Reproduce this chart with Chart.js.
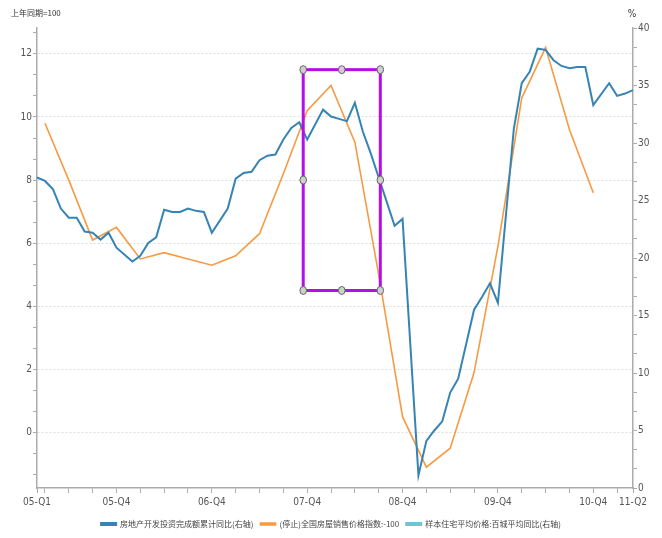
<!DOCTYPE html>
<html>
<head>
<meta charset="utf-8">
<script src="https://cdn.jsdelivr.net/npm/chart.js@4.4.1/dist/chart.umd.min.js"></script>
<style>
  html, body { margin: 0; padding: 0; background: #ffffff; }
  #wrap { width: 662px; height: 538px; }
</style>
</head>
<body>
<div id="wrap"><canvas id="c" width="662" height="538"></canvas></div>
<script>
// Monthly axis, Feb 2005 .. May 2011
const months = [
  '2005-02','2005-03','2005-04','2005-05','2005-06','2005-07','2005-08','2005-09','2005-10','2005-11','2005-12',
  '2006-01','2006-02','2006-03','2006-04','2006-05','2006-06','2006-07','2006-08','2006-09','2006-10','2006-11','2006-12',
  '2007-01','2007-02','2007-03','2007-04','2007-05','2007-06','2007-07','2007-08','2007-09','2007-10','2007-11','2007-12',
  '2008-01','2008-02','2008-03','2008-04','2008-05','2008-06','2008-07','2008-08','2008-09','2008-10','2008-11','2008-12',
  '2009-01','2009-02','2009-03','2009-04','2009-05','2009-06','2009-07','2009-08','2009-09','2009-10','2009-11','2009-12',
  '2010-01','2010-02','2010-03','2010-04','2010-05','2010-06','2010-07','2010-08','2010-09','2010-10','2010-11','2010-12',
  '2011-01','2011-02','2011-03','2011-04','2011-05'
];

// 房地产开发投资完成额累计同比 (%, right axis); January is reported together with February
const investYoY = [
  27.0, 26.7, 26.0, 24.3, 23.5, 23.5, 22.3, 22.2, 21.6, 22.2, 20.9,
  null, 19.7, 20.2, 21.3, 21.8, 24.2, 24.0, 24.0, 24.3, 24.1, 24.0, 22.2,
  null, 24.3, 26.9, 27.4, 27.5, 28.5, 28.9, 29.0, 30.3, 31.3, 31.8, 30.3,
  null, 32.9, 32.3, 32.1, 31.9, 33.5, 31.0, 29.1, 27.0, 24.9, 22.8, 23.4,
  null, 1.1, 4.1, 5.0, 5.8, 8.3, 9.5, 12.5, 15.5, 16.6, 17.8, 16.1,
  null, 31.2, 35.2, 36.2, 38.2, 38.1, 37.2, 36.7, 36.5, 36.6, 36.6, 33.3,
  null, 35.2, 34.1, 34.3, 34.6
];

// (停止)全国房屋销售价格指数 - 100, quarterly (left axis, 上年同期=100)
const priceQuarters = [
  '2005-03','2005-06','2005-09','2005-12',
  '2006-03','2006-06','2006-09','2006-12',
  '2007-03','2007-06','2007-09','2007-12',
  '2008-03','2008-06','2008-09','2008-12',
  '2009-03','2009-06','2009-09','2009-12',
  '2010-03','2010-06','2010-09','2010-12'
];
const priceIndex = [
  9.8, 8.0, 6.1, 6.5,
  5.5, 5.7, 5.5, 5.3,
  5.6, 6.3, 8.2, 10.2,
  11.0, 9.2, 5.0, 0.5,
  -1.1, -0.5, 1.9, 5.9,
  10.6, 12.2, 9.6, 7.6
];

// 样本住宅平均价格:百城平均同比 (no observations in this window)
const sampleHousePrice = [];

// Labelled x ticks
const xLabelMonths = ['2005-02','2005-12','2006-12','2007-12','2008-12','2009-12','2010-12','2011-05'];
const xLabelTexts  = ['05-Q1','05-Q4','06-Q4','07-Q4','08-Q4','09-Q4','10-Q4','11-Q2'];

// Axis label values
const leftLabels = [0, 2, 4, 6, 8, 10, 12];
const rightLabels = [0, 5, 10, 15, 20, 25, 30, 35, 40];

// Highlight box drawn over the chart, in axis units (month index / left axis)
const highlightBox = { x0: 33.5, x1: 43.2, y0: 4.5, y1: 11.5 };

const BLUE = '#3584b4';
const ORANGE = '#f79a43';
const TEAL = '#6fc6d3';
const AXIS = '#ababab';
const TICK_FONT = { family: "'Liberation Sans Narrow', 'DejaVu Sans Condensed', 'Liberation Sans', sans-serif", size: 10 };
const CJK = "'Noto Sans CJK SC', 'Noto Sans', sans-serif";

const isQuarterEnd = (i) => {
  if (i === 0 || i === months.length - 1) return true;
  const m = months[i].slice(5);
  return m === '03' || m === '06' || m === '09' || m === '12';
};
const near = (v, set) => set.some(s => Math.abs(s - v) < 1e-6);

const axisTitles = {
  id: 'axisTitles',
  afterDraw(chart) {
    const ctx = chart.ctx;
    ctx.save();
    ctx.fillStyle = '#333';
    ctx.font = `8px ${CJK}`;
    ctx.textBaseline = 'middle';
    ctx.textAlign = 'left';
    ctx.fillText('上年同期=100', 11, 13);
    ctx.textAlign = 'center';
    ctx.font = `10px ${TICK_FONT.family}`;
    ctx.fillText('%', 632, 14);
    ctx.restore();
  }
};

const boxOverlay = {
  id: 'boxOverlay',
  afterDatasetsDraw(chart) {
    const { ctx, scales } = chart;
    const l = scales.x.getPixelForValue(highlightBox.x0);
    const r = scales.x.getPixelForValue(highlightBox.x1);
    const t = scales.yL.getPixelForValue(highlightBox.y1);
    const b = scales.yL.getPixelForValue(highlightBox.y0);
    ctx.save();
    ctx.strokeStyle = '#b40fe6';
    ctx.lineWidth = 3;
    ctx.strokeRect(l, t, r - l, b - t);
    const mx = (l + r) / 2, my = (t + b) / 2;
    const handles = [[l, t], [mx, t], [r, t], [l, my], [r, my], [l, b], [mx, b], [r, b]];
    ctx.lineWidth = 1;
    ctx.strokeStyle = '#666';
    ctx.fillStyle = '#cfcfcf';
    handles.forEach(([hx, hy]) => {
      ctx.beginPath();
      ctx.ellipse(hx, hy, 3.3, 4, 0, 0, Math.PI * 2);
      ctx.fill();
      ctx.stroke();
    });
    ctx.restore();
  }
};

new Chart(document.getElementById('c'), {
  type: 'line',
  data: {
    labels: months,
    datasets: [
      {
        label: '房地产开发投资完成额累计同比(右轴)',
        data: investYoY,
        yAxisID: 'yR',
        borderColor: BLUE,
        backgroundColor: BLUE,
        borderWidth: 2,
        pointRadius: 0,
        spanGaps: true,
        tension: 0
      },
      {
        label: '(停止)全国房屋销售价格指数:-100',
        data: priceQuarters.map((m, i) => ({ x: m, y: priceIndex[i] })),
        yAxisID: 'yL',
        borderColor: ORANGE,
        backgroundColor: ORANGE,
        borderWidth: 1.6,
        pointRadius: 0,
        tension: 0
      },
      {
        label: '样本住宅平均价格:百城平均同比(右轴)',
        data: sampleHousePrice,
        yAxisID: 'yR',
        borderColor: TEAL,
        backgroundColor: TEAL,
        borderWidth: 2,
        pointRadius: 0
      }
    ]
  },
  options: {
    responsive: false,
    animation: false,
    layout: { padding: { top: 28, left: 0, right: 0, bottom: 0 } },
    plugins: {
      legend: {
        position: 'bottom',
        labels: {
          boxWidth: 15,
          boxHeight: 2,
          padding: 7,
          color: '#444',
          font: { family: CJK, size: 8 }
        }
      },
      tooltip: { enabled: false }
    },
    scales: {
      x: {
        type: 'category',
        offset: false,
        grid: {
          drawOnChartArea: false,
          tickLength: 5,
          tickWidth: 1,
          tickColor: (c) => isQuarterEnd(c.index) ? AXIS : 'rgba(0,0,0,0)'
        },
        border: { color: AXIS, width: 1.5 },
        ticks: {
          autoSkip: false,
          maxRotation: 0,
          minRotation: 0,
          padding: 3,
          color: '#555',
          font: TICK_FONT,
          callback: (v, i) => {
            const k = xLabelMonths.indexOf(months[i]);
            return k >= 0 ? xLabelTexts[k] : '';
          }
        },
        afterFit: (s) => { s.height = 25; }
      },
      yL: {
        type: 'linear',
        position: 'left',
        min: -1.76,
        max: 12.82,
        afterBuildTicks: (s) => {
          const t = [];
          for (let k = -2; k <= 19; k++) t.push({ value: k * 2 / 3 });
          s.ticks = t;
        },
        afterFit: (s) => { s.width = 37; },
        grid: {
          drawOnChartArea: true,
          color: (c) => (c.tick && near(c.tick.value, leftLabels)) ? '#dcdcdc' : 'rgba(0,0,0,0)',
          lineWidth: 1,
          tickLength: 4,
          tickColor: AXIS,
          tickWidth: 1
        },
        border: { color: AXIS, width: 1.5, dash: [2, 2] },
        ticks: {
          padding: 1,
          color: '#555',
          font: TICK_FONT,
          callback: (v) => near(v, leftLabels) ? String(Math.round(v)) : ''
        }
      },
      yR: {
        type: 'linear',
        position: 'right',
        min: 0,
        max: 40,
        afterBuildTicks: (s) => {
          const t = [];
          for (let k = 0; k <= 24; k++) t.push({ value: k * 5 / 3 });
          s.ticks = t;
        },
        afterFit: (s) => { s.width = 29; },
        grid: {
          drawOnChartArea: false,
          tickLength: 4,
          tickColor: AXIS,
          tickWidth: 1
        },
        border: { color: AXIS, width: 1.5 },
        ticks: {
          padding: 1,
          color: '#555',
          font: TICK_FONT,
          callback: (v) => near(v, rightLabels) ? String(Math.round(v)) : ''
        }
      }
    }
  },
  plugins: [axisTitles, boxOverlay]
});
</script>
</body>
</html>
